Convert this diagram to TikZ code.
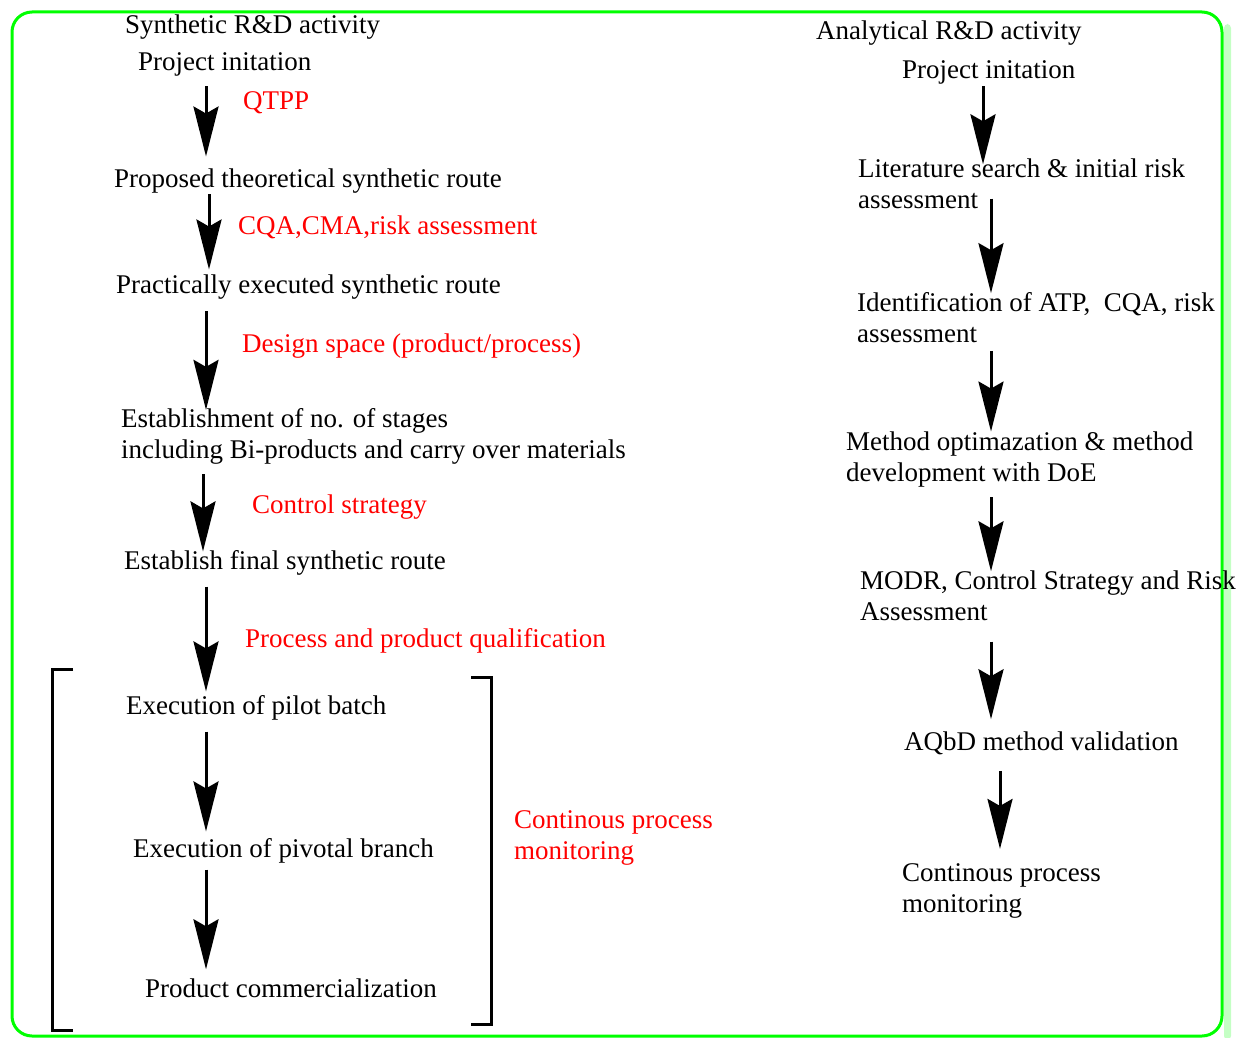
\documentclass[tikz,border=0pt]{standalone}
\usepackage{fontspec}
\setmainfont{Liberation Serif}
\usepackage{xcolor}
\usetikzlibrary{arrows.meta,positioning,calc}
\definecolor{qbdred}{HTML}{FF0000}
\definecolor{qbdgreen}{HTML}{00FF00}
\definecolor{qbdshade}{HTML}{C4FFC4}

\begin{document}
\begin{tikzpicture}[
  x=1pt, y=-1pt,
  stage/.style={anchor=west, align=left, inner sep=0pt,
                font=\fontsize{27}{31}\selectfont},
  note/.style={stage, text=qbdred},
  flow/.style={-{Stealth[length=50pt, width=25pt, inset=7pt]}, line width=3pt},
  brack/.style={line width=3pt},
]
\useasboundingbox (0,0) rectangle (1243,1038);

% frame
\fill[qbdshade, rounded corners=4pt] (1224,24) rectangle (1231,1040);
\draw[qbdgreen, line width=3pt, rounded corners=20pt] (12,12) rectangle (1222,1036);

% synthetic side
\node[stage] (synhead) at (125,27) {Synthetic R\&D activity};
\node[stage] (sproj) at (138,64) {Project initation};
\node[note] (qtpp) at (243,103) {QTPP};
\node[stage] (sprop) at (114,181) {Proposed theoretical synthetic route};
\node[note] (cqa) at (238,227) {CQA,CMA,risk assessment};
\node[stage] (sprac) at (116,287) {Practically executed synthetic route};
\node[note] (dspace) at (242,346) {Design space (product/process)};
\node[stage] (sstage) at (121,436) {Establishment of no. of stages\\including Bi-products and carry over materials};
\node[note] (ctrl) at (252,507) {Control strategy};
\node[stage] (sfinal) at (124,563) {Establish final synthetic route};
\node[note] (qual) at (245,641) {Process and product qualification};
\node[stage] (spilot) at (126,708) {Execution of pilot batch};
\node[stage] (spivot) at (133,851) {Execution of pivotal branch};
\node[stage] (scomm) at (145,988) {Product commercialization};
\node[note] (cpm) at (514,838) {Continous process\\monitoring};

% analytical side
\node[stage] (anhead) at (816,33) {Analytical R\&D activity};
\node[stage] (aproj) at (902,72) {Project initation};
\node[stage] (alit) at (858,183.5) {Literature search \& initial risk\\assessment};
\node[stage] (aatp) at (857,317.5) {Identification of ATP,\ \ CQA, risk\\assessment};
\node[stage] (aopt) at (846,459.5) {Method optimazation \& method\\development with DoE};
\node[stage] (amodr) at (860,595.5) {MODR, Control Strategy and Risk\\Assessment};
\node[stage] (aval) at (904,743) {AQbD method validation};
\node[stage] (acpm) at (902,890.5) {Continous process\\monitoring};

\coordinate (colL) at (206,0);
\coordinate (colLb) at (209,0);
\coordinate (colLc) at (203,0);
\coordinate (colR) at (991,0);
\coordinate (colRa) at (983,0);
\coordinate (colRb) at (1000,0);

\draw[flow, shorten <=10pt, shorten >=12pt] (sproj.south -| colL) -- (sprop.north -| colL);
\draw[flow, shorten <=1pt, shorten >=5pt] (sprop.south -| colLb) -- (sprac.north -| colLb);
\draw[flow, shorten <=12pt, shorten >=-2pt] (sprac.south -| colL) -- (sstage.north -| colL);
\draw[flow, shorten <=10pt, shorten >=-1pt] (sstage.south -| colLc) -- (sfinal.north -| colLc);
\draw[flow, shorten <=11pt, shorten >=4pt] (sfinal.south -| colL) -- (spilot.north -| colL);
\draw[flow, shorten <=11pt, shorten >=7pt] (spilot.south -| colL) -- (spivot.north -| colL);
\draw[flow, shorten <=6pt, shorten >=9pt] (spivot.south -| colL) -- (scomm.north -| colL);

\draw[flow, shorten <=2pt, shorten >=-6pt] (aproj.south -| colRa) -- (alit.north -| colRa);
\draw[flow, shorten <=-10pt, shorten >=-1pt] (alit.south -| colR) -- (aatp.north -| colR);
\draw[flow, shorten <=8pt] (aatp.south -| colR) -- (aopt.north -| colR);
\draw[flow, shorten <=10pt, shorten >=-1pt] (aopt.south -| colR) -- (amodr.north -| colR);
\draw[flow, shorten <=21pt, shorten >=12pt] (amodr.south -| colR) -- (aval.north -| colR);
\draw[flow, shorten <=16pt, shorten >=14pt] (aval.south -| colRb) -- (acpm.north -| colRb);

% bracket round the batch stages
\draw[brack] (73,669) -- (52,669) -- (52,1030) -- (73,1030);
\draw[brack] (471,677) -- (491,677) -- (491,1024) -- (471,1024);

\end{tikzpicture}
\end{document}
